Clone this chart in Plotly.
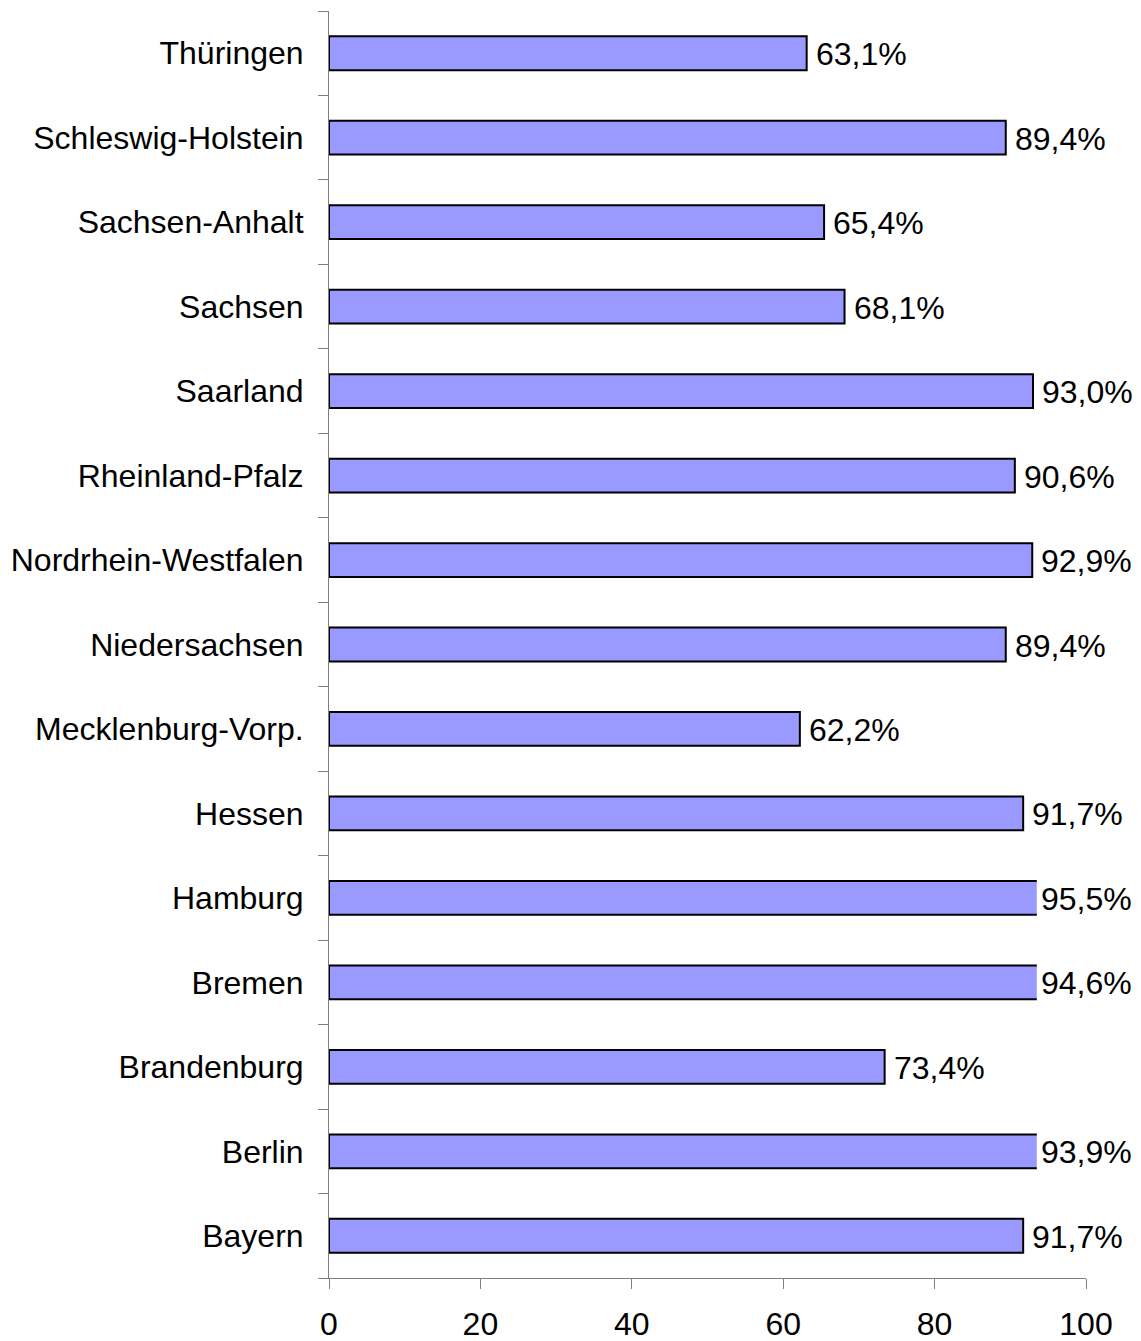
import plotly.graph_objects as go

states = ["Bayern", "Berlin", "Brandenburg", "Bremen", "Hamburg", "Hessen",
          "Mecklenburg-Vorp.", "Niedersachsen", "Nordrhein-Westfalen",
          "Rheinland-Pfalz", "Saarland", "Sachsen", "Sachsen-Anhalt",
          "Schleswig-Holstein", "Thüringen"]
values = [91.7, 93.9, 73.4, 94.6, 95.5, 91.7, 62.2, 89.4, 92.9, 90.6, 93.0,
          68.1, 65.4, 89.4, 63.1]
x_ticks = [0, 20, 40, 60, 80, 100]

CLIP = 93.5          # the original chart's bar area ends here
FONT = dict(family="Liberation Sans, Arial, sans-serif", size=32, color="black")
AXIS_COL = "#7f7f7f"

labels = [f"{v:.1f}".replace(".", ",") + "%" for v in values]

fig = go.Figure()
fig.add_trace(go.Bar(
    y=states, x=values, orientation="h",
    marker=dict(color="#9999FF", line=dict(color="black", width=2)),
    xaxis="x", yaxis="y", hoverinfo="skip", showlegend=False,
))
# invisible helper so the tick axis (0-100) has data
fig.add_trace(go.Scatter(
    y=states, x=[min(v, CLIP) for v in values], mode="markers",
    marker=dict(opacity=0), xaxis="x2", yaxis="y",
    hoverinfo="skip", showlegend=False,
))

for s, v, t in zip(states, values, labels):
    fig.add_annotation(
        x=min(v, CLIP), y=s, xref="x2", yref="y", text=t,
        showarrow=False, xanchor="left", yanchor="middle",
        xshift=7 if v <= CLIP else 2, yshift=-1, font=FONT,
    )

fig.update_layout(
    width=1141, height=1341,
    margin=dict(l=321, r=63, t=3, b=71),
    paper_bgcolor="white", plot_bgcolor="rgba(0,0,0,0)",
    font=FONT,
    bargap=0.6,
    xaxis=dict(domain=[0, CLIP / 100], range=[0, CLIP], visible=False,
               showgrid=False, zeroline=False, anchor="y", automargin=False),
    xaxis2=dict(domain=[0, 1], range=[0, 100], anchor="y",
                tickvals=x_ticks, showline=True, linecolor=AXIS_COL,
                linewidth=1, ticks="outside", ticklen=10, tickcolor=AXIS_COL,
                showgrid=False, zeroline=False, tickfont=FONT,
                automargin=False, ticklabelstandoff=8),
    yaxis=dict(anchor="x", type="category", categoryorder="array",
               categoryarray=states, range=[-0.5, len(states) - 0.5],
               showline=True, linecolor=AXIS_COL,
               linewidth=1, ticks="outside", ticklen=10, tickcolor=AXIS_COL,
               tickson="boundaries", showgrid=False, zeroline=False,
               tickfont=FONT, automargin=False, ticklabelstandoff=18),
)

fig.write_html("out.html")
